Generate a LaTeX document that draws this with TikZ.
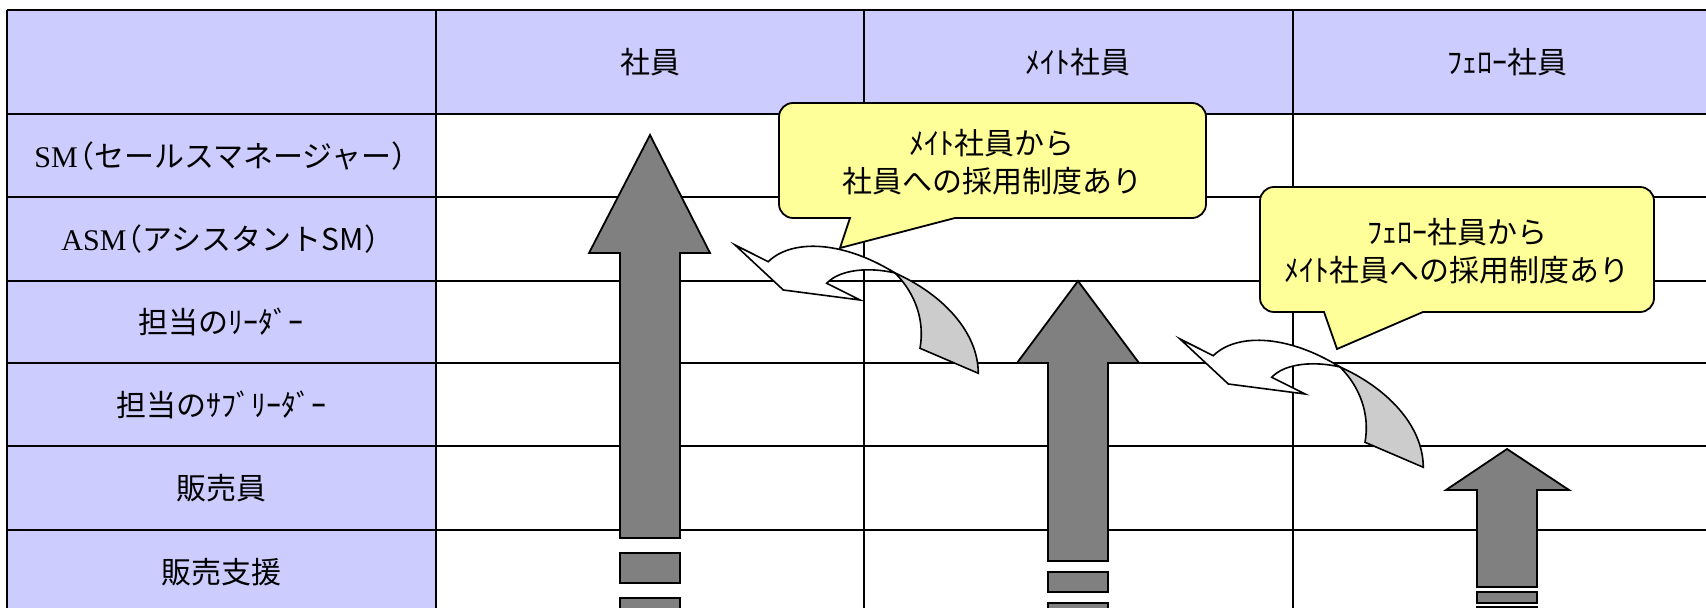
\documentclass[tikz,border=0pt]{standalone}
\usepackage{fontspec}
\setmainfont{Noto Sans CJK JP}
\newfontfamily\tms{Liberation Serif}
\definecolor{hdrblue}{HTML}{CCCCFF}
\definecolor{arrgray}{HTML}{808080}
\definecolor{backgray}{HTML}{CCCCCC}
\definecolor{noteyellow}{HTML}{FFFF99}
\newcommand{\jlp}{\makebox[0.55em][r]{（}}
\newcommand{\jrp}{\makebox[0.55em][l]{）}}
\begin{document}
\begin{tikzpicture}[x=0.5pt,y=-0.5pt,
  gridline/.style={line width=0.9pt,black},
  lbl/.style={font=\fontsize{15}{19}\selectfont,inner sep=0pt,align=center},
  bigarrow/.style={fill=arrgray,draw=black,line width=0.9pt,line join=miter},
  notebox/.style={fill=noteyellow,draw=black,line width=0.9pt},
  curvfront/.style={fill=white,draw=black,line width=0.8pt,line join=miter},
  curvback/.style={fill=backgray,draw=black,line width=0.8pt,line join=miter}]
\useasboundingbox (0,0) rectangle (1706,608);
% table
\begin{scope}
\clip (0,0) rectangle (1706,608);
\fill[hdrblue] (7,10) rectangle (1730,114);
\fill[hdrblue] (7,114) rectangle (436,620);
\foreach \yy in {10,114,197,281,363,446,530} \draw[gridline] (7,\yy) -- (1730,\yy);
\foreach \xx in {7,436,864,1293} \draw[gridline] (\xx,10) -- (\xx,620);
\end{scope}
% header texts
\node[lbl] (hA) at (650,62) {社員};
\node[lbl] (hB) at (1078,62) {ﾒｲﾄ社員};
\node[lbl] (hC) at (1507,62) {ﾌｪﾛｰ社員};
% row labels
\node[lbl] (r1) at (221,156) {{\tms SM}\jlp セールスマネージャー\jrp};
\node[lbl] (r2) at (221,239) {{\tms ASM}\jlp アシスタントSM\jrp};
\node[lbl] (r3) at (221,322) {担当のﾘｰﾀﾞｰ};
\node[lbl] (r4) at (221,405) {担当のｻﾌﾞﾘｰﾀﾞｰ};
\node[lbl] (r5) at (221,488) {販売員};
\node[lbl] (r6) at (221,572) {販売支援};
% callouts
\draw[notebox] (840,248) -- (955,218) [rounded corners=7pt] -- (1206,218) -- (1206,103) -- (779,103) -- (779,218) [sharp corners] -- (850,218) -- cycle;
\node[lbl] (c1) at (992,162) {ﾒｲﾄ社員から\\社員への採用制度あり};
\draw[notebox] (1337,349) -- (1423,312) [rounded corners=7pt] -- (1654,312) -- (1654,187) -- (1260,187) -- (1260,312) [sharp corners] -- (1324,312) -- cycle;
\node[lbl] (c2) at (1457,251) {ﾌｪﾛｰ社員から\\ﾒｲﾄ社員への採用制度あり};
% big arrows
\begin{scope}
\clip (0,0) rectangle (1706,608);
\draw[bigarrow] (650,135) -- (710,253) -- (680,253) -- (680,538) -- (620,538) -- (620,253) -- (589,253) -- cycle;
\draw[bigarrow] (620,553) rectangle (680,583);
\draw[bigarrow] (620,598) rectangle (680,630);
\draw[bigarrow] (1078,281) -- (1139,363) -- (1108,363) -- (1108,561) -- (1048,561) -- (1048,363) -- (1017,363) -- cycle;
\draw[bigarrow] (1048,572) rectangle (1108,592);
\draw[bigarrow] (1048,603) rectangle (1108,630);
\draw[bigarrow] (1507,449) -- (1569,490) -- (1537,490) -- (1537,587) -- (1477,587) -- (1477,490) -- (1446,490) -- cycle;
\draw[bigarrow] (1477,592) rectangle (1537,603);
\draw[bigarrow] (1477,607) rectangle (1537,630);
\end{scope}
% curved arrows
\foreach \sx/\sy in {735/245,1180/339}{
\begin{scope}[shift={(\sx,\sy)}]
\draw[curvback] (160,28) .. controls (205,48) and (243,85) .. (243.3,128.3) -- (185,103.3) .. controls (190,75) and (180,48) .. (160,28) -- cycle;
\draw[curvfront] (0,0) -- (33.3,16.7) .. controls (55,-5) and (105,-6) .. (160,28) .. controls (135,22) and (105,24) .. (91.7,38.3) -- (125,55) -- (48.3,45) -- cycle;
\end{scope}}
\end{tikzpicture}
\end{document}
